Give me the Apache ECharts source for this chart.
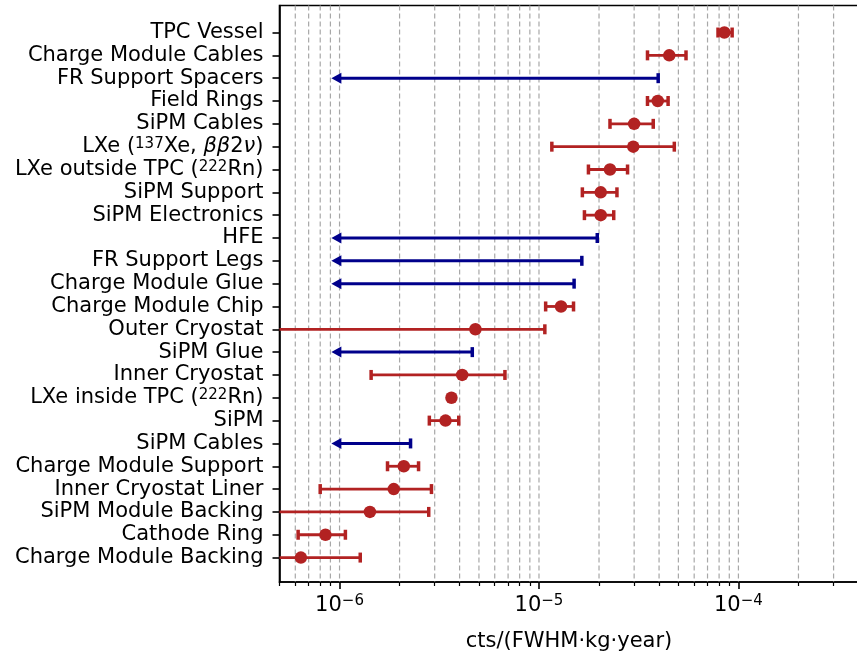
<!DOCTYPE html>
<html>
<head>
<meta charset="utf-8">
<script src="https://cdn.jsdelivr.net/npm/echarts@6/dist/echarts.min.js"></script>
<style>
html, body { margin: 0; padding: 0; background: #fff; }
#chartmain { width: 857px; height: 653px; }
</style>
</head>
<body>
<div id="chartmain"></div>
<script>
// components, top to bottom
var labels = [
	'TPC Vessel',
	'Charge Module Cables',
	'FR Support Spacers',
	'Field Rings',
	'SiPM Cables',
	'LXe ({s|137}Xe, {i|ββ}2{i|ν})',
	'LXe outside TPC ({s|222}Rn)',
	'SiPM Support',
	'SiPM Electronics',
	'HFE',
	'FR Support Legs',
	'Charge Module Glue',
	'Charge Module Chip',
	'Outer Cryostat',
	'SiPM Glue',
	'Inner Cryostat',
	'LXe inside TPC ({s|222}Rn)',
	'SiPM',
	'SiPM Cables',
	'Charge Module Support',
	'Inner Cryostat Liner',
	'SiPM Module Backing',
	'Cathode Ring',
	'Charge Module Backing'
];

// measured values (null = upper limit only)
var central = [8.5e-5, 4.5e-5, null, 3.94e-5, 3.0e-5, 2.97e-5, 2.27e-5, 2.04e-5,
	2.04e-5, null, null, null, 1.29e-5, 4.8e-6, null, 4.12e-6, 3.64e-6, 3.4e-6,
	null, 2.1e-6, 1.87e-6, 1.42e-6, 8.5e-7, 6.4e-7];
var errLow = [7.9e-5, 3.5e-5, null, 3.5e-5, 2.27e-5, 1.16e-5, 1.77e-5, 1.65e-5,
	1.69e-5, null, null, null, 1.08e-5, 4e-7, null, 1.44e-6, null, 2.82e-6,
	null, 1.74e-6, 8.0e-7, 4e-7, 6.2e-7, 4e-7];
var errHigh = [9.3e-5, 5.46e-5, null, 4.44e-5, 3.74e-5, 4.77e-5, 2.78e-5, 2.46e-5,
	2.37e-5, null, null, null, 1.49e-5, 1.07e-5, null, 6.75e-6, null, 3.96e-6,
	null, 2.49e-6, 2.89e-6, 2.8e-6, 1.07e-6, 1.27e-6];
var upperLimit = [null, null, 3.96e-5, null, null, null, null, null,
	null, 1.96e-5, 1.64e-5, 1.5e-5, null, null, 4.63e-6, null, null, null,
	2.27e-6, null, null, null, null, null];
var limitTip = 9.1e-7;

var majorTicks = [1e-6, 1e-5, 1e-4];
var minorTicks = [5e-7, 6e-7, 7e-7, 8e-7, 9e-7,
	2e-6, 3e-6, 4e-6, 5e-6, 6e-6, 7e-6, 8e-6, 9e-6,
	2e-5, 3e-5, 4e-5, 5e-5, 6e-5, 7e-5, 8e-5, 9e-5,
	2e-4, 3e-4];
var gridVals = [6e-7, 7e-7, 8e-7, 9e-7,
	1e-6, 2e-6, 3e-6, 4e-6, 5e-6, 6e-6, 7e-6, 8e-6, 9e-6,
	1e-5, 2e-5, 3e-5, 4e-5, 5e-5, 6e-5, 7e-5, 8e-5, 9e-5,
	1e-4, 2e-4, 3e-4];

var RED = '#b22222';
var BLUE = '#00008b';
var FONT = 'DejaVu Sans';

var idx = [];
var dots = [];
var errs = [];
var lims = [];
for (var i = 0; i < labels.length; i++) {
	idx.push(i);
	if (central[i] != null) dots.push([central[i], i]);
	if (errLow[i] != null) errs.push([errLow[i], errHigh[i], i]);
	if (upperLimit[i] != null) lims.push([limitTip, upperLimit[i], i]);
}

function cap(p, color) {
	return {
		type : 'line',
		shape : { x1 : p[0], y1 : p[1] - 5, x2 : p[0], y2 : p[1] + 5 },
		style : { stroke : color, lineWidth : 3.5 }
	};
}

// dashed vertical grid line at every 1..9 x 10^k
function renderGrid(params, api) {
	var p = api.coord([ api.value(0), 0 ]);
	var cs = params.coordSys;
	return {
		type : 'line',
		shape : { x1 : p[0], y1 : cs.y, x2 : p[0], y2 : cs.y + cs.height },
		style : { stroke : '#a8a8a8', lineWidth : 1.2, lineDash : [ 5, 3 ] }
	};
}

function renderErr(params, api) {
	var y = api.value(2);
	var p1 = api.coord([ api.value(0), y ]);
	var p2 = api.coord([ api.value(1), y ]);
	var cs = params.coordSys;
	var x1 = Math.max(p1[0], cs.x);
	var kids = [ {
		type : 'line',
		shape : { x1 : x1, y1 : p1[1], x2 : p2[0], y2 : p2[1] },
		style : { stroke : RED, lineWidth : 2.8 }
	} ];
	if (p1[0] >= cs.x) kids.push(cap(p1, RED));
	kids.push(cap(p2, RED));
	return { type : 'group', children : kids };
}

function renderLim(params, api) {
	var y = api.value(2);
	var p1 = api.coord([ api.value(0), y ]);
	var p2 = api.coord([ api.value(1), y ]);
	return {
		type : 'group',
		children : [ {
			type : 'line',
			shape : { x1 : p1[0] + 4, y1 : p1[1], x2 : p2[0], y2 : p2[1] },
			style : { stroke : BLUE, lineWidth : 3 }
		}, cap(p2, BLUE), {
			type : 'polygon',
			shape : { points : [ [ p1[0], p1[1] ], [ p1[0] + 10, p1[1] - 5.5 ], [ p1[0] + 10, p1[1] + 5.5 ] ] },
			style : { fill : BLUE }
		} ]
	};
}

var option = {
	animation : false,
	grid : {
		left : 279.5,
		top : 5.5,
		right : -1.5,
		bottom : 71,
		containLabel : false,
		outerBoundsMode : 'none',
		show : true,
		borderColor : '#000',
		borderWidth : 1.6
	},
	xAxis : [ {
		type : 'log',
		logBase : 10,
		min : 5e-7,
		max : 4e-4,
		position : 'bottom',
		name : 'cts/(FWHM·kg·year)',
		nameLocation : 'middle',
		nameGap : 49,
		nameTextStyle : { fontSize : 21, color : '#000', fontFamily : FONT },
		axisLine : { show : true, onZero : false, lineStyle : { color : '#000', width : 1.6 } },
		axisTick : { customValues : majorTicks, length : 7, lineStyle : { color : '#000', width : 1.6 } },
		splitLine : { show : false },
		axisLabel : {
			customValues : majorTicks,
			margin : 12,
			color : '#000',
			fontFamily : FONT,
			formatter : function(v) {
				var e = Math.round(Math.log(v) / Math.LN10);
				return '{b|10}{s|' + (e < 0 ? '\u2212' : '') + Math.abs(e) + '}';
			},
			rich : {
				b : { fontSize : 21, lineHeight : 24, fontFamily : FONT, color : '#000' },
				s : { fontSize : 15, lineHeight : 15, verticalAlign : 'top', fontFamily : FONT, color : '#000' }
			}
		}
	}, {
		type : 'log',
		logBase : 10,
		min : 5e-7,
		max : 4e-4,
		position : 'bottom',
		axisLine : { show : false, onZero : false },
		axisTick : { customValues : minorTicks, length : 4, lineStyle : { color : '#000', width : 1.2 } },
		axisLabel : { show : false },
		splitLine : { show : false }
	} ],
	yAxis : {
		type : 'value',
		inverse : true,
		min : -1.184,
		max : 24.07,
		splitLine : { show : false },
		axisLine : { show : true, onZero : false, lineStyle : { color : '#000', width : 1.6 } },
		axisTick : { customValues : idx, length : 7, lineStyle : { color : '#000', width : 1.6 } },
		axisLabel : {
			customValues : idx,
			showMinLabel : true,
			showMaxLabel : true,
			hideOverlap : false,
			margin : 16,
			fontSize : 21,
			lineHeight : 20,
			color : '#000',
			fontFamily : FONT,
			formatter : function(v) {
				return labels[Math.round(v)];
			},
			rich : {
				s : { fontSize : 15, lineHeight : 10, verticalAlign : 'top', fontFamily : FONT, color : '#000' },
				i : { fontSize : 21, lineHeight : 20, fontStyle : 'italic', fontFamily : FONT, color : '#000' }
			}
		}
	},
	series : [ {
		type : 'custom',
		z : 1,
		silent : true,
		renderItem : renderGrid,
		encode : { x : 0 },
		data : gridVals.map(function(v) {
			return [ v ];
		})
	}, {
		type : 'custom',
		z : 2,
		renderItem : renderLim,
		encode : { x : [ 0, 1 ], y : 2 },
		data : lims
	}, {
		type : 'custom',
		z : 2,
		renderItem : renderErr,
		encode : { x : [ 0, 1 ], y : 2 },
		data : errs
	}, {
		type : 'scatter',
		z : 3,
		symbolSize : 12.5,
		itemStyle : { color : RED, opacity : 1 },
		data : dots
	} ]
};

var myChart = echarts.init(document.getElementById('chartmain'));
myChart.setOption(option);
</script>
</body>
</html>
